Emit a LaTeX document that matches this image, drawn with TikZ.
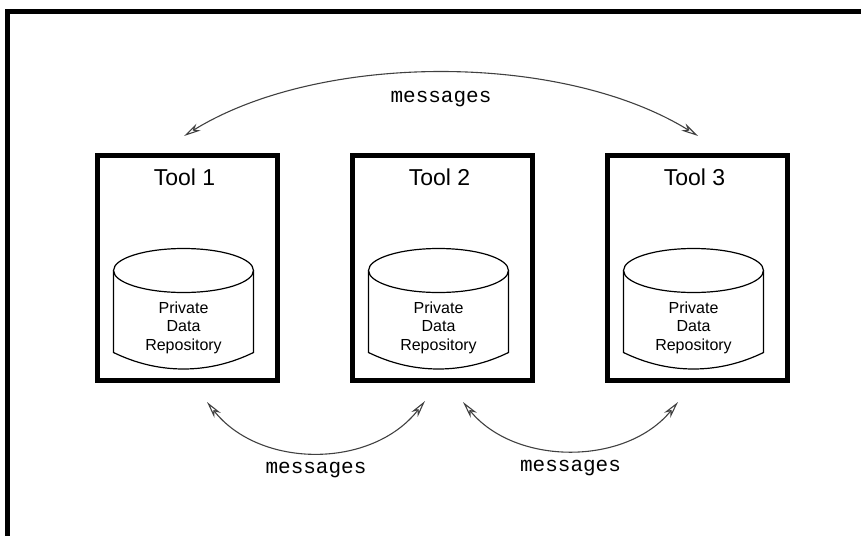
\documentclass[tikz,border=0pt]{standalone}
\usepackage{fontspec}
\newfontfamily\toolfont{Liberation Sans}
\newfontfamily\msgfont{Liberation Mono}
\usetikzlibrary{arrows.meta,calc,positioning}
\tikzset{
    %Define standard arrow tip
    >={Stealth[open,length=17pt,width=8pt,inset=5pt]},
    %Define style for tool boxes
    toolbox/.style={
           rectangle,
           draw=black, line width=5pt,
           minimum width=180pt,
           minimum height=225pt},
    toollabel/.style={
           font=\toolfont\fontsize{23}{26}\selectfont},
    repotext/.style={
           align=center,
           font=\toolfont\fontsize{16}{18.5}\selectfont},
    msg/.style={
           font=\msgfont\fontsize{21}{24}\selectfont},
    % Define arrow style
    pil/.style={
           <->,
           line width=1.1pt,
           draw=black!75},
    %Define the repository cylinder
    repo/.pic={
           \draw[line width=1.2pt] (0,0) ellipse (70 and 22);
           \draw[line width=1.2pt] (-70,0) -- (-70,82)
                .. controls (-25,104) and (25,104) .. (70,82) -- (70,0);
           \node[repotext] (-text) at (0,57) {Private\\Data\\Repository};
           }
}
\begin{document}
\begin{tikzpicture}[x=1pt,y=-1pt,node distance=70pt]
\useasboundingbox (0,0) rectangle (861,535);
\clip (0,0) rectangle (861,535);
\draw[line width=5pt] (7,12) rectangle (900,600);
\node[toolbox] (tool1) at (187.5,267.5) {};
\node[toolbox, right=of tool1] (tool2) {};
\node[toolbox, right=of tool2] (tool3) {};
\foreach \t in {1,2,3}{
  \node[toollabel] (lab\t) at ($(tool\t.north)+(-3,25)$) {Tool \t};
  \pic (repo\t) at ($(tool\t.center)+(-4,3)$) {repo};
}
\coordinate (t1top) at (184,136);
\coordinate (t3top) at (698,136);
\coordinate (a1) at (207,402);
\coordinate (a2) at (425,401);
\coordinate (b1) at (463,402);
\coordinate (b2) at (678,402);
\draw[pil] (t1top) .. controls (320,52) and (562,52) .. node[msg,below=14pt] (msgtop) {messages} (t3top);
\draw[pil] (a1) .. controls (260,469) and (372,469) .. node[msg,below=6pt] (msgleft) {messages} (a2);
\draw[pil] (b1) .. controls (515,466) and (626,466) .. node[msg,below=6pt] (msgright) {messages} (b2);
\end{tikzpicture}
\end{document}
